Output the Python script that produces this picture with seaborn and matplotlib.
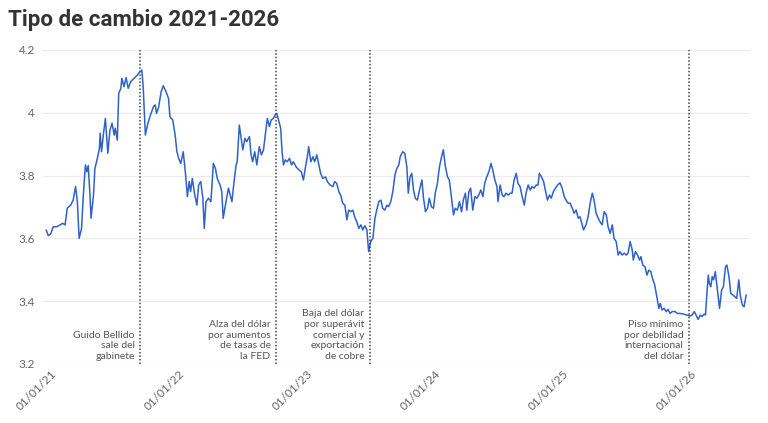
import pandas as pd
import matplotlib
matplotlib.use("Agg")
import matplotlib.pyplot as plt
import matplotlib.dates as mdates
import matplotlib.transforms as mtransforms
import seaborn as sns

# Días desde el 01/01/21 y tipo de cambio (soles por dólar)
dias = [
    9, 15, 22, 29, 39, 49, 56, 63, 69, 79, 86, 93, 98, 103, 110, 115, 121, 125, 129, 134,
    137, 144, 148, 155, 161, 163, 167, 172, 178, 185, 191, 197, 203, 206, 212, 216, 222, 225, 231, 237,
    243, 250, 260, 269, 275, 282, 286, 292, 298, 305, 315, 320, 324, 330, 337, 343, 351, 358, 362, 370,
    377, 382, 387, 393, 400, 406, 412, 417, 421, 426, 432, 439, 444, 450, 456, 460, 465, 472, 479, 486,
    492, 497, 505, 510, 514, 522, 529, 534, 539, 545, 551, 554, 560, 566, 570, 576, 581, 589, 593, 598,
    604, 610, 617, 623, 629, 634, 640, 646, 651, 657, 663, 667, 673, 678, 682, 686, 691, 697, 703, 709,
    714, 722, 730, 737, 743, 748, 754, 758, 764, 770, 775, 781, 787, 792, 798, 806, 811, 819, 827, 832,
    838, 844, 849, 855, 861, 867, 872, 878, 884, 889, 895, 901, 907, 912, 918, 924, 929, 935, 941, 947,
    952, 958, 964, 969, 975, 981, 986, 992, 998, 1004, 1009, 1015, 1019, 1026, 1032, 1038, 1042, 1047, 1052, 1057,
    1062, 1068, 1074, 1081, 1085, 1091, 1097, 1102, 1108, 1114, 1119, 1125, 1131, 1137, 1142, 1148, 1154, 1159, 1165, 1171,
    1176, 1182, 1188, 1194, 1199, 1205, 1209, 1215, 1220, 1226, 1232, 1238, 1243, 1249, 1255, 1260, 1266, 1272, 1278, 1283,
    1289, 1295, 1298, 1304, 1310, 1315, 1321, 1327, 1333, 1338, 1344, 1350, 1355, 1361, 1367, 1373, 1378, 1384, 1390, 1395,
    1401, 1407, 1412, 1416, 1422, 1428, 1433, 1439, 1445, 1450, 1456, 1462, 1468, 1475, 1481, 1487, 1492, 1498, 1504, 1510,
    1515, 1521, 1527, 1532, 1542, 1549, 1555, 1561, 1567, 1572, 1578, 1584, 1589, 1595, 1601, 1607, 1612, 1618, 1624, 1629,
    1635, 1641, 1646, 1652, 1658, 1664, 1669, 1675, 1681, 1684, 1690, 1696, 1702, 1706, 1711, 1717, 1723, 1728, 1734, 1740,
    1745, 1751, 1757, 1761, 1766, 1772, 1778, 1783, 1789, 1795, 1803, 1810, 1818, 1827, 1837, 1846, 1852, 1858, 1863, 1869,
    1875, 1880, 1886, 1890, 1894, 1898, 1901, 1905, 1909, 1913, 1918, 1924, 1930, 1936, 1941, 1947, 1951, 1957, 1962, 1968,
    1974, 1979, 1985, 1989, 1995, 2000, 2006,
]
tipo_cambio = [
    3.627, 3.609, 3.614, 3.637, 3.637, 3.643, 3.648, 3.643, 3.696, 3.706, 3.722, 3.765, 3.717, 3.600, 3.632, 3.738, 3.834, 3.812, 3.832, 3.738,
    3.664, 3.738, 3.822, 3.855, 3.887, 3.935, 3.876, 3.929, 3.982, 3.871, 3.945, 3.967, 3.929, 3.951, 3.913, 4.062, 4.078, 4.110, 4.083, 4.112,
    4.078, 4.099, 4.110, 4.120, 4.129, 4.136, 4.078, 3.929, 3.961, 3.988, 4.019, 4.025, 3.998, 4.019, 4.067, 4.086, 4.067, 4.046, 3.988, 3.977,
    3.929, 3.876, 3.855, 3.839, 3.876, 3.812, 3.733, 3.781, 3.749, 3.791, 3.744, 3.706, 3.770, 3.781, 3.728, 3.632, 3.717, 3.728, 3.717, 3.839,
    3.822, 3.791, 3.770, 3.749, 3.664, 3.717, 3.760, 3.738, 3.717, 3.781, 3.834, 3.844, 3.961, 3.913, 3.882, 3.919, 3.908, 3.924, 3.871, 3.844,
    3.876, 3.834, 3.892, 3.866, 3.882, 3.929, 3.982, 3.956, 3.977, 3.982, 3.995, 3.998, 3.972, 3.951, 3.876, 3.834, 3.850, 3.844, 3.855, 3.834,
    3.844, 3.828, 3.818, 3.812, 3.786, 3.822, 3.860, 3.892, 3.844, 3.860, 3.844, 3.866, 3.834, 3.807, 3.791, 3.796, 3.781, 3.770, 3.765, 3.781,
    3.775, 3.749, 3.738, 3.712, 3.706, 3.659, 3.690, 3.685, 3.690, 3.669, 3.653, 3.632, 3.643, 3.627, 3.640, 3.627, 3.558, 3.590, 3.600, 3.664,
    3.690, 3.717, 3.722, 3.696, 3.690, 3.706, 3.701, 3.717, 3.749, 3.802, 3.822, 3.834, 3.860, 3.876, 3.871, 3.828, 3.744, 3.796, 3.807, 3.754,
    3.728, 3.722, 3.754, 3.786, 3.733, 3.685, 3.696, 3.728, 3.701, 3.696, 3.744, 3.775, 3.828, 3.860, 3.882, 3.828, 3.796, 3.786, 3.733, 3.675,
    3.696, 3.690, 3.717, 3.685, 3.722, 3.744, 3.690, 3.749, 3.760, 3.690, 3.733, 3.728, 3.738, 3.754, 3.733, 3.775, 3.796, 3.812, 3.839, 3.818,
    3.786, 3.765, 3.717, 3.770, 3.738, 3.733, 3.744, 3.738, 3.744, 3.744, 3.786, 3.807, 3.775, 3.765, 3.733, 3.706, 3.744, 3.770, 3.754, 3.765,
    3.760, 3.770, 3.770, 3.807, 3.796, 3.781, 3.754, 3.722, 3.738, 3.728, 3.749, 3.760, 3.770, 3.777, 3.760, 3.733, 3.722, 3.712, 3.712, 3.696,
    3.680, 3.690, 3.664, 3.669, 3.627, 3.643, 3.669, 3.712, 3.744, 3.722, 3.680, 3.664, 3.653, 3.643, 3.685, 3.675, 3.637, 3.616, 3.643, 3.600,
    3.590, 3.547, 3.558, 3.547, 3.553, 3.547, 3.553, 3.590, 3.563, 3.531, 3.558, 3.547, 3.531, 3.542, 3.515, 3.510, 3.483, 3.499, 3.494, 3.468,
    3.452, 3.414, 3.377, 3.393, 3.372, 3.377, 3.367, 3.374, 3.361, 3.367, 3.367, 3.361, 3.361, 3.359, 3.356, 3.353, 3.356, 3.367, 3.356, 3.342,
    3.356, 3.351, 3.359, 3.356, 3.425, 3.483, 3.457, 3.446, 3.478, 3.468, 3.494, 3.436, 3.377, 3.436, 3.446, 3.510, 3.515, 3.478, 3.425, 3.420,
    3.414, 3.409, 3.468, 3.420, 3.388, 3.382, 3.420,
]

# Hitos marcados con líneas punteadas
fechas_hitos = ["2021-10-05", "2022-10-28", "2023-07-23", "2026-01-18"]
textos_hitos = [
    "Guido Bellido\nsale del\ngabinete",
    "Alza del dólar\npor aumentos\nde tasas de\nla FED",
    "Baja del dólar\npor superávit\ncomercial y\nexportación\nde cobre",
    "Piso mínimo\npor debilidad\ninternacional\ndel dólar",
]
ticks_x = ["2021-01-01", "2022-01-01", "2023-01-01", "2024-01-01", "2025-01-01", "2026-01-01"]
ticks_y = [3.2, 3.4, 3.6, 3.8, 4.0, 4.2]
ticks_y_txt = ["3.2", "3.4", "3.6", "3.8", "4", "4.2"]

inicio = pd.Timestamp("2021-01-01")
df = pd.DataFrame({
    "fecha": inicio + pd.to_timedelta(dias, unit="D"),
    "tc": tipo_cambio,
})

sns.set_theme(style="white")
plt.rcParams["font.family"] = ["Lato", "DejaVu Sans"]

fig = plt.figure(figsize=(7.68, 4.23), dpi=100)
ax = fig.add_axes([0.056, 0.1395, 0.9206, 0.7423])

sns.lineplot(data=df, x="fecha", y="tc", ax=ax, color="#2f62c8", linewidth=1.1)

for f, txt in zip(fechas_hitos, textos_hitos):
    d = pd.Timestamp(f)
    ax.axvline(d, color="#444444", linestyle=(0, (1, 1.3)), linewidth=1.1, zorder=3)
    ax.annotate(txt, xy=(d, 3.2), xytext=(-4, 2), textcoords="offset points",
                ha="right", va="bottom", fontsize=7.5, color="#555555", linespacing=1.25)

ax.set_ylim(3.2, 4.2)
ax.set_xlim(inicio, inicio + pd.Timedelta(days=2017))
ax.set_yticks(ticks_y)
ax.set_yticklabels(ticks_y_txt)
ax.set_xticks(pd.to_datetime(ticks_x))
ax.xaxis.set_major_formatter(mdates.DateFormatter("%d/%m/%y"))
ax.set_xlabel("")
ax.set_ylabel("")

ax.grid(axis="y", color="#ececec", linewidth=0.9)
ax.grid(axis="x", visible=False)
sns.despine(ax=ax, left=True, bottom=True)
ax.tick_params(axis="y", length=0, pad=6, labelsize=8.5, labelcolor="#666666")
ax.tick_params(axis="x", length=0, pad=3, labelsize=8.5, labelcolor="#666666")

offset = mtransforms.ScaledTranslation(8 / 100, 0, fig.dpi_scale_trans)
for lab in ax.get_xticklabels():
    lab.set_rotation(45)
    lab.set_ha("right")
    lab.set_rotation_mode("anchor")
    lab.set_transform(lab.get_transform() + offset)

fig.text(0.0104, 0.953, "Tipo de cambio 2021-2026", fontsize=16, fontweight="bold",
         color="#333333", va="center", ha="left", family=["Roboto", "DejaVu Sans"])

fig.savefig("out.png", dpi=100, facecolor="white")
